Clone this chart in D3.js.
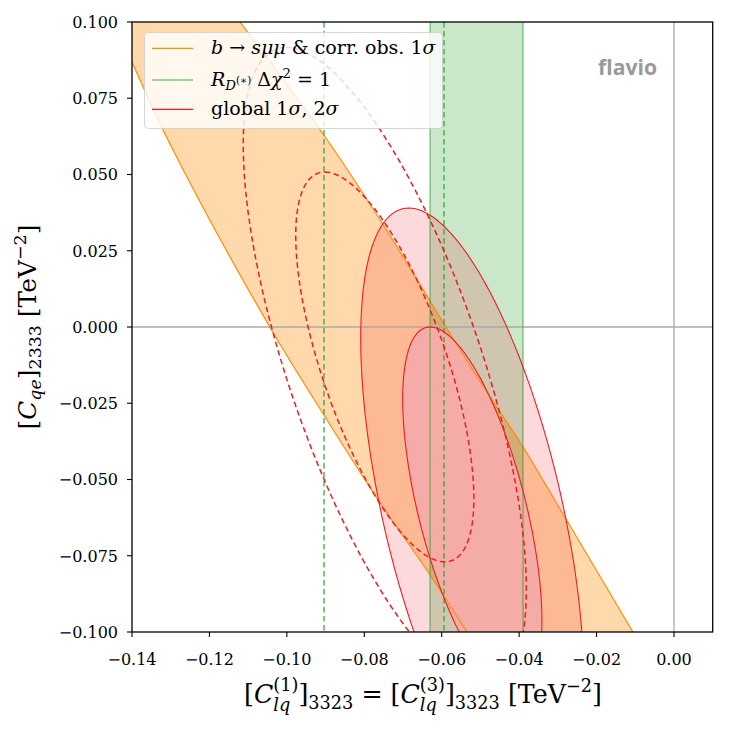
<!DOCTYPE html>
<html><head><meta charset="utf-8">
<script src="https://cdn.jsdelivr.net/npm/d3@7"></script>
<style>body{margin:0;background:#fff} svg{display:block}</style>
</head><body><svg id="c" width="735" height="732"></svg>
<script>
// ---------------- data ----------------
const xTicks = [-0.14, -0.12, -0.10, -0.08, -0.06, -0.04, -0.02, 0.00];
const xTickLabels = ["\u22120.14", "\u22120.12", "\u22120.10", "\u22120.08", "\u22120.06", "\u22120.04", "\u22120.02", "0.00"];
const yTicks = [-0.100, -0.075, -0.050, -0.025, 0.000, 0.025, 0.050, 0.075, 0.100];
const yTickLabels = ["\u22120.100", "\u22120.075", "\u22120.050", "\u22120.025", "0.000", "0.025", "0.050", "0.075", "0.100"];

// b -> s mu mu & corr. obs. 1 sigma band (edges)
const bsmmUpperEdge = [[-0.1121, 0.1000], [-0.0901, 0.0623], [-0.0754, 0.0341], [-0.0589, 0.0000],
                       [-0.0475, -0.0230], [-0.0398, -0.0377], [-0.0282, -0.0623], [-0.0106, -0.1000]];
const bsmmLowerEdge = [[-0.1400, 0.0869], [-0.1294, 0.0580], [-0.1044, 0.0000], [-0.0901, -0.0295],
                       [-0.0759, -0.0577], [-0.0630, -0.0813], [-0.0535, -0.1000]];
const bsmmCorner = [-0.14, 0.10];

// R_D(*) band (Delta chi2 = 1) and dashed lines
const rdBand = [-0.0630, -0.0390];
const rdDashed = [-0.0904, -0.0594];

// global fit contours (centre + two conjugate semi-diameters)
const globalCenter = [-0.0521, -0.0600];
const global1U = [-0.0109, 0.0600], global1V = [0.0143, 0];
const global2U = [-0.0164, 0.0990], global2V = [0.0237, 0];
// dashed contours
const altCenter = [-0.0747, -0.0131];
const alt1U = [-0.0155, 0.0639], alt1V = [0.0170, 0];
const alt2U = [-0.0254, 0.1048], alt2V = [0.0263, 0];

// ---------------- setup ----------------
const svg = d3.select("#c");
const L = 132, R = 712.7, T = 22, B = 632;
const xs = d3.scaleLinear().domain([-0.14, 0.01]).range([L, R]);
const ys = d3.scaleLinear().domain([-0.1, 0.1]).range([B, T]);

const ORANGE = "#ff8c00", GREEN = "#2ca02c", RED = "#ec1c24";
const SERIF = "DejaVu Serif";

svg.append("defs").append("clipPath").attr("id", "clip")
  .append("rect").attr("x", L).attr("y", T).attr("width", R - L).attr("height", B - T);
const plot = svg.append("g").attr("clip-path", "url(#clip)");

const edgeLine = d3.line().x(d => xs(d[0])).y(d => ys(d[1])).curve(d3.curveCatmullRom.alpha(0.5));

// orange band
const upperPath = edgeLine(bsmmUpperEdge);
const lowerRev = edgeLine(bsmmLowerEdge.slice().reverse());
const fillPath = upperPath + "L" + lowerRev.slice(1) + "L" + xs(bsmmCorner[0]) + "," + ys(bsmmCorner[1]) + "Z";
plot.append("path").attr("d", fillPath).attr("fill", ORANGE).attr("fill-opacity", 0.33);

// green band
plot.append("rect").attr("x", xs(rdBand[0])).attr("y", T).attr("width", xs(rdBand[1]) - xs(rdBand[0]))
  .attr("height", B - T).attr("fill", GREEN).attr("fill-opacity", 0.25);

// ellipse helper
function ellipsePts(c, u, v) {
  return d3.range(0, 360, 2).map(a => {
    const t = a * Math.PI / 180;
    return [c[0] + Math.cos(t) * u[0] + Math.sin(t) * v[0], c[1] + Math.cos(t) * u[1] + Math.sin(t) * v[1]];
  });
}
const closedLine = d3.line().x(d => xs(d[0])).y(d => ys(d[1])).curve(d3.curveLinearClosed);

const g2 = ellipsePts(globalCenter, global2U, global2V);
const g1 = ellipsePts(globalCenter, global1U, global1V);
plot.append("path").attr("d", closedLine(g2)).attr("fill", RED).attr("fill-opacity", 0.17);
plot.append("path").attr("d", closedLine(g1)).attr("fill", "#f5aca7");

// zero lines
plot.append("line").attr("x1", L).attr("x2", R).attr("y1", ys(0)).attr("y2", ys(0))
  .attr("stroke", "#aaaaaa").attr("stroke-width", 1.3);
plot.append("line").attr("x1", xs(0)).attr("x2", xs(0)).attr("y1", T).attr("y2", B)
  .attr("stroke", "#aaaaaa").attr("stroke-width", 1.3);

// orange edges
plot.append("path").attr("d", upperPath).attr("fill", "none").attr("stroke", ORANGE).attr("stroke-width", 1.2);
plot.append("path").attr("d", edgeLine(bsmmLowerEdge)).attr("fill", "none").attr("stroke", ORANGE).attr("stroke-width", 1.2);

// green edges
rdBand.forEach(v => plot.append("line").attr("x1", xs(v)).attr("x2", xs(v)).attr("y1", T).attr("y2", B)
  .attr("stroke", GREEN).attr("stroke-opacity", 0.55).attr("stroke-width", 1.5));
rdDashed.forEach(v => plot.append("line").attr("x1", xs(v)).attr("x2", xs(v)).attr("y1", T).attr("y2", B)
  .attr("stroke", GREEN).attr("stroke-opacity", 0.8).attr("stroke-width", 1.5).attr("stroke-dasharray", "5.5,3.5"));

// red contours
[g2, g1].forEach(p => plot.append("path").attr("d", closedLine(p)).attr("fill", "none")
  .attr("stroke", RED).attr("stroke-width", 1.1));
[ellipsePts(altCenter, alt2U, alt2V), ellipsePts(altCenter, alt1U, alt1V)].forEach(p =>
  plot.append("path").attr("d", closedLine(p)).attr("fill", "none")
    .attr("stroke", RED).attr("stroke-width", 1.5).attr("stroke-dasharray", "5.5,3.5"));

// frame
svg.append("rect").attr("x", L).attr("y", T).attr("width", R - L).attr("height", B - T)
  .attr("fill", "none").attr("stroke", "#000").attr("stroke-width", 1.3);

// ticks
const ax = svg.append("g");
xTicks.forEach((v, i) => {
  ax.append("line").attr("x1", xs(v)).attr("x2", xs(v)).attr("y1", B).attr("y2", B + 5).attr("stroke", "#000").attr("stroke-width", 1.1);
  ax.append("text").attr("x", xs(v)).attr("y", B + 33).attr("text-anchor", "middle")
    .attr("font-family", SERIF).attr("font-size", 16).text(xTickLabels[i]);
});
yTicks.forEach((v, i) => {
  ax.append("line").attr("x1", L - 5).attr("x2", L).attr("y1", ys(v)).attr("y2", ys(v)).attr("stroke", "#000").attr("stroke-width", 1.1);
  ax.append("text").attr("x", L - 14).attr("y", ys(v) + 5.8).attr("text-anchor", "end")
    .attr("font-family", SERIF).attr("font-size", 16).text(yTickLabels[i]);
});

// ---------------- rich text ----------------
function rich(g, parts, size, anchor) {
  const t = g.append("text").attr("font-family", SERIF).attr("font-size", size).attr("text-anchor", anchor || "start");
  let curSh = 0, pendingDx = 0, lastLen = 0;
  parts.forEach(p => {
    const s = p.s || 1, sh = p.sh || 0;
    const ts = t.append("tspan").text(p.t).attr("font-size", size * s)
      .attr("font-style", p.i ? "italic" : "normal")
      .attr("dy", -(sh - curSh) * size);
    curSh = sh;
    if (p.stack) {
      ts.attr("dx", -lastLen);
      const len = ts.node().getComputedTextLength();
      pendingDx = Math.max(0, lastLen - len);
      lastLen = len;
    } else {
      if (pendingDx) { ts.attr("dx", pendingDx); pendingDx = 0; }
      lastLen = ts.node().getComputedTextLength();
    }
  });
  return t;
}
function fitSize(g, parts, target, anchor) {
  const t = rich(g, parts, 20, anchor);
  const w = t.node().getBBox().width;
  t.remove();
  return 20 * target / w;
}

const SUB = -0.22, SUP = 0.42;
const xLabelParts = [
  {t: "["}, {t: "C", i: 1}, {t: "(1)", s: 0.7, sh: SUP + 0.05}, {t: "lq", i: 1, s: 0.7, sh: SUB - 0.08, stack: 1},
  {t: "]"}, {t: "3323", s: 0.7, sh: SUB}, {t: " = ["}, {t: "C", i: 1}, {t: "(3)", s: 0.7, sh: SUP + 0.05},
  {t: "lq", i: 1, s: 0.7, sh: SUB - 0.08, stack: 1}, {t: "]"}, {t: "3323", s: 0.7, sh: SUB},
  {t: "  [TeV"}, {t: "\u22122", s: 0.7, sh: SUP}, {t: "]"}
];
const yLabelParts = [
  {t: "["}, {t: "C", i: 1}, {t: "qe", i: 1, s: 0.7, sh: SUB}, {t: "]"}, {t: "2333", s: 0.7, sh: SUB},
  {t: "  [TeV"}, {t: "\u22122", s: 0.7, sh: SUP}, {t: "]"}
];
const gx = svg.append("g").attr("transform", "translate(423,703)");
const labelSize = fitSize(gx, xLabelParts, 358, "middle");
rich(gx, xLabelParts, labelSize, "middle");

const gy = svg.append("g").attr("transform", "translate(36,327) rotate(-90)");
const ySize = Math.min(labelSize * 1.08, fitSize(gy, yLabelParts, 205, "middle"));
rich(gy, yLabelParts, ySize, "middle");

// ---------------- legend ----------------
const lg = svg.append("g");
lg.append("rect").attr("x", 144.5).attr("y", 32.5).attr("width", 298).attr("height", 96).attr("rx", 4)
  .attr("fill", "#fff").attr("fill-opacity", 0.8).attr("stroke", "#cccccc").attr("stroke-opacity", 0.8);
const legendItems = [
  {y: 48.3, color: ORANGE, op: 1,
   parts: [{t: "b", i: 1}, {t: " \u2192 "}, {t: "s\u03bc\u03bc", i: 1}, {t: " & corr. obs. 1"}, {t: "\u03c3", i: 1}]},
  {y: 80, color: GREEN, op: 0.6,
   parts: [{t: "R", i: 1}, {t: "D", i: 1, s: 0.7, sh: -0.2}, {t: "(\u2217)", s: 0.55, sh: 0.08},
           {t: " \u0394"}, {t: "\u03c7", i: 1}, {t: "2", s: 0.7, sh: 0.4}, {t: " = 1"}]},
  {y: 109.3, color: RED, op: 1,
   parts: [{t: "global 1"}, {t: "\u03c3", i: 1}, {t: ", 2"}, {t: "\u03c3", i: 1}]}
];
const legSize = fitSize(lg, legendItems[0].parts, 226, "start");
legendItems.forEach(it => {
  lg.append("line").attr("x1", 152).attr("x2", 193).attr("y1", it.y).attr("y2", it.y)
    .attr("stroke", it.color).attr("stroke-opacity", it.op).attr("stroke-width", 1.3);
  const gg = lg.append("g").attr("transform", `translate(211,${it.y + 6})`);
  rich(gg, it.parts, legSize, "start");
});

// flavio watermark
const fl = svg.append("text").attr("x", 657).attr("y", 75).attr("text-anchor", "end")
  .attr("font-family", "Open Sans").attr("font-weight", "bold").attr("font-size", 21)
  .attr("fill", "#999999").text("flavio");
const fw = fl.node().getBBox().width;
fl.attr("font-size", 21 * 59 / fw);
</script></body></html>
